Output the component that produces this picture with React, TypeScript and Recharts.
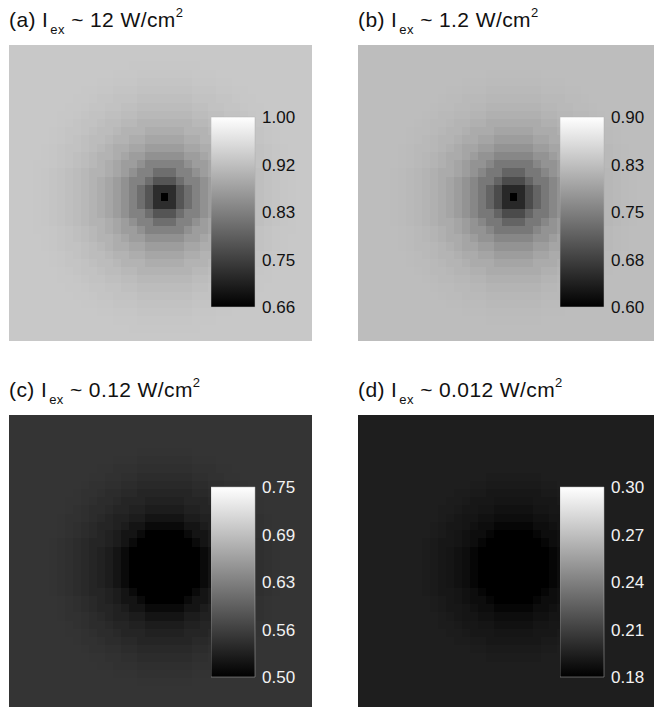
import React from 'react';
import { ComposedChart, ReferenceArea, Scatter, ScatterChart, XAxis, YAxis } from 'recharts';

// grid of the simulated map
const COLS = 38;
const ROWS = 36;
const CENTER_COL = 19;
const CENTER_ROW = 18;

// value per ring (distance from centre in cells)
const PROFILE_A = [0.66, 0.72, 0.773, 0.807, 0.833, 0.853, 0.869, 0.881, 0.891, 0.899, 0.905, 0.911, 0.915, 0.919, 0.921, 0.924, 0.925, 0.927];
const PROFILE_B = [0.6, 0.647, 0.688, 0.718, 0.741, 0.759, 0.773, 0.785, 0.794, 0.801, 0.807, 0.812, 0.815, 0.818, 0.82, 0.821, 0.822];
const PROFILE_C = [0.49, 0.49, 0.49, 0.49, 0.495, 0.51, 0.52, 0.527, 0.532, 0.536, 0.54, 0.543, 0.546, 0.548, 0.55, 0.551];
const PROFILE_D = [0.17, 0.17, 0.17, 0.17, 0.175, 0.183, 0.186, 0.188, 0.19, 0.191, 0.192, 0.193, 0.194, 0.194];

const RANGE_A = [0.66, 1.0];
const RANGE_B = [0.6, 0.9];
const RANGE_C = [0.5, 0.75];
const RANGE_D = [0.18, 0.3];

const LABELS_A = ['0.66', '0.75', '0.83', '0.92', '1.00'];
const LABELS_B = ['0.60', '0.68', '0.75', '0.83', '0.90'];
const LABELS_C = ['0.50', '0.56', '0.63', '0.69', '0.75'];
const LABELS_D = ['0.18', '0.21', '0.24', '0.27', '0.30'];

const TITLE_LETTERS = ['(a)', '(b)', '(c)', '(d)'];
const TITLE_POWERS = ['12', '1.2', '0.12', '0.012'];

const PANEL_W = 303;
const PANEL_H = 296;
const CELL_W = PANEL_W / COLS;
const CELL_H = PANEL_H / ROWS;
const FONT = '"Liberation Sans", Arial, Helvetica, sans-serif';

const buildCells = (profile: number[]) => {
  const cells: { x: number; y: number; v: number }[] = [];
  for (let r = 0; r < ROWS; r++) {
    for (let c = 0; c < COLS; c++) {
      const d = Math.round(Math.hypot(c - CENTER_COL, r - CENTER_ROW));
      cells.push({ x: c + 0.5, y: r + 0.5, v: profile[Math.min(d, profile.length - 1)] });
    }
  }
  return cells;
};

const gray = (v: number, range: number[]) => {
  const t = Math.max(0, Math.min(1, (v - range[0]) / (range[1] - range[0])));
  const g = Math.round(t * 255);
  return `rgb(${g},${g},${g})`;
};

function Panel({ idx, left, top, profile, range, labels, labelColor }: any) {
  const cells = buildCells(profile);
  const ticks = labels.map((_: string, i: number) => range[0] + ((range[1] - range[0]) * i) / (labels.length - 1));
  const gid = `cb-${idx}`;
  return (
    <div style={{ position: 'absolute', left, top: top - 45, width: PANEL_W, height: PANEL_H + 45 }}>
      <svg width={280} height={44} style={{ position: 'absolute', left: 0, top: 0 }}>
        <text x={0} y={27} fontFamily={FONT} fontSize={21} fill="#111" letterSpacing={0.4}>
          {TITLE_LETTERS[idx]} I
          <tspan fontSize={13} dy={7} dx={2}>ex</tspan>
          <tspan fontSize={21} dy={-7}> ~ {TITLE_POWERS[idx]} W/cm</tspan>
          <tspan fontSize={13} dy={-10}>2</tspan>
        </text>
      </svg>
      <div style={{ position: 'absolute', left: 0, top: 45 }}>
        <ScatterChart width={PANEL_W} height={PANEL_H} margin={{ top: 0, right: 0, bottom: 0, left: 0 }}>
          <XAxis type="number" dataKey="x" domain={[0, COLS]} hide />
          <YAxis type="number" dataKey="y" domain={[0, ROWS]} hide reversed />
          <Scatter
            data={cells}
            isAnimationActive={false}
            shape={(p: any) => (
              <rect
                x={p.cx - CELL_W / 2}
                y={p.cy - CELL_H / 2}
                width={CELL_W + 1}
                height={CELL_H + 1}
                shapeRendering="crispEdges"
                fill={gray(p.payload.v, range)}
              />
            )}
          />
        </ScatterChart>
      </div>
      <div style={{ position: 'absolute', left: 202, top: 45 + 62 }}>
        <ComposedChart width={100} height={210} margin={{ top: 10, right: 0, bottom: 10, left: 0 }}>
          <defs>
            <linearGradient id={gid} x1="0" y1="0" x2="0" y2="1">
              <stop offset="0%" stopColor="#ffffff" />
              <stop offset="100%" stopColor="#000000" />
            </linearGradient>
          </defs>
          <XAxis type="number" dataKey="x" domain={[0, 1]} hide />
          <YAxis
            yAxisId="cb"
            orientation="right"
            type="number"
            domain={range}
            ticks={ticks}
            interval={0}
            width={56}
            axisLine={false}
            tickLine={false}
            tickSize={0}
            tickMargin={7}
            tick={{ fill: labelColor, fontSize: 17, fontFamily: FONT }}
            tickFormatter={(_: any, i: number) => labels[i]}
          />
          <ReferenceArea
            yAxisId="cb"
            x1={0}
            x2={1}
            y1={range[0]}
            y2={range[1]}
            fill={`url(#${gid})`}
            fillOpacity={1}
            stroke="#b0b0b0"
            strokeWidth={0.5}
            ifOverflow="extendDomain"
          />
        </ComposedChart>
      </div>
    </div>
  );
}

export default function App() {
  return (
    <div style={{ position: 'absolute', left: 0, top: 0, width: 654, height: 707, overflow: 'hidden', background: '#fff' }}>
      <Panel idx={0} left={9} top={45} profile={PROFILE_A} range={RANGE_A} labels={LABELS_A} labelColor="#111" />
      <Panel idx={1} left={358} top={45} profile={PROFILE_B} range={RANGE_B} labels={LABELS_B} labelColor="#111" />
      <Panel idx={2} left={9} top={415} profile={PROFILE_C} range={RANGE_C} labels={LABELS_C} labelColor="#f2f2f2" />
      <Panel idx={3} left={358} top={415} profile={PROFILE_D} range={RANGE_D} labels={LABELS_D} labelColor="#f2f2f2" />
    </div>
  );
}
